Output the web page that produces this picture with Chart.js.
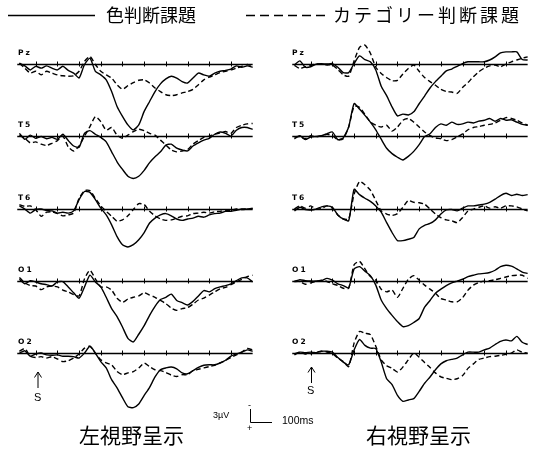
<!DOCTYPE html>
<html lang="ja">
<head>
<meta charset="utf-8">
<title>ERP</title>
<script src="https://cdn.jsdelivr.net/npm/chart.js@4/dist/chart.umd.min.js"></script>
<style>
  body { margin: 0; background: #fff; }
  #page { position: relative; width: 533px; height: 449px; overflow: hidden; background: #fff; color: #000; font-family: "Noto Sans CJK JP", sans-serif; }
  #page canvas { position: absolute; }
  #deco { position: absolute; left: 0; top: 0; }
  .t { position: absolute; line-height: 1; white-space: nowrap; }
  .jp { font-family: "Noto Sans CJK JP", sans-serif; }
  .ch { position: absolute; font-family: "DejaVu Sans", sans-serif; font-size: 7.5px; font-weight: bold; letter-spacing: 2px; line-height: 1; }
  .small { font-family: "Liberation Sans", sans-serif; }
</style>
</head>
<body>
<div id="page">
  <svg id="deco" width="533" height="449">
    <line x1="8" y1="15.5" x2="95" y2="15.5" stroke="#000" stroke-width="1.6"/>
    <line x1="246" y1="15.5" x2="330" y2="15.5" stroke="#000" stroke-width="1.6" stroke-dasharray="9 5"/>
    <path d="M38 388 V372 M34.5 377.5 L38 372 L41.5 377.5" fill="none" stroke="#000" stroke-width="1"/>
    <path d="M311.5 383 V367 M308 372.5 L311.5 367 L315 372.5" fill="none" stroke="#000" stroke-width="1"/>
    <path d="M250.5 409 V422.5 H272" fill="none" stroke="#000" stroke-width="1"/>
  </svg>
  <div class="t jp" style="left:106px; top:5px; font-size:18px;">色判断課題</div>
  <div class="t jp" style="left:333px; top:5px; font-size:18px; letter-spacing:3px;">カテゴリー判断課題</div>
  <div class="t jp" style="left:79px; top:424px; font-size:21px;">左視野呈示</div>
  <div class="t jp" style="left:366px; top:424px; font-size:21px;">右視野呈示</div>
  <div class="t small" style="left:34px; top:392px; font-size:11px;">S</div>
  <div class="t small" style="left:307px; top:385px; font-size:11px;">S</div>
  <div class="t small" style="left:213px; top:411px; font-size:9px;">3µV</div>
  <div class="t small" style="left:248px; top:401px; font-size:9px;">-</div>
  <div class="t small" style="left:247px; top:424px; font-size:9px;">+</div>
  <div class="t small" style="left:282px; top:415px; font-size:10.5px;">100ms</div>
</div>
<script>
// time (ms) of every sample, stimulus at 0
const times = [-75,-50,-25,0,25,50,75,100,125,150,175,200,225,250,275,300,325,350,375,400,425,450,475,500,525,550,575,600,625,650,675,700,725,750,775,800,825,850,875,900,925,950,975,1000];
const channels = ['Pz', 'T5', 'T6', 'O1', 'O2'];
const tickTimes = [0,100,200,300,400,500,600,700,800,900];

// left visual field presentation (µV, negative up)
const leftPzColor = [-0.2,0.4,1.3,0.5,0.9,0.4,0.9,1.3,0.5,1.4, 2.0,3.1,0.1,-1.3,1.6,2.4,3.5,6.1,9.4,11.6, 13.5,14.6,13.5,10.5,8.3,6.1,4.4,3.3,2.7,3.1, 3.9,4.2,3.1,2.0,2.4,2.7,2.0,1.6,1.4,1.1, 0.4,0.7,0.4,0.7];
const leftPzCategory = [-0.2,0.9,2.0,1.6,2.4,1.6,2.0,2.4,2.6,2.7, 2.6,1.6,-0.6,-1.7,0.1,1.6,2.4,3.1,4.6,5.6, 4.8,4.1,3.6,3.5,4.2,5.3,6.1,6.8,7.0,6.8, 6.4,6.1,5.6,4.6,3.5,2.9,2.4,1.9,1.6,1.3, 0.9,0.5,0.1,0.4];
const leftT5Color = [-0.6,0.7,-0.2,0.5,0.1,0.6,0.3,0.7,-0.4,1.0, 2.2,2.5,-0.6,-1.2,-0.4,0.3,1.3,3.5,5.7,7.4, 8.9,9.4,8.9,7.6,5.9,4.6,3.5,2.0,1.8,2.7, 3.1,3.3,2.2,1.5,0.9,0.5,-0.4,-0.9,-0.6,0, -1.3,-1.9,-1.9,-1.5];
const leftT5Category = [-0.2,0.5,1.5,1.3,1.8,2.1,1.6,1.0,0,2.4, 3.3,2.2,0,-2.1,-4.3,-3.2,-1.3,-1.9,-0.2,0.5, -0.2,-1.0,-1.5,-1.2,-0.6,-0.2,0.9,2.0,3.1,3.5, 3.3,3.0,1.8,1.0,0.3,0,-0.4,-0.7,-1.0,-0.6, -1.9,-2.4,-2.7,-2.8];
const leftT6Color = [-0.7,0,0.9,0.1,0,0.3,0.4,0.9,0.7,0.9, 0.4,-2.1,-3.9,-3.7,-2.1,-0.2,1.3,3.5,6.1,7.9, 8.4,7.9,6.8,5.2,3.1,2.0,1.3,1.0,1.5,2.2, 2.5,2.2,2.0,1.6,1.8,1.3,1.0,0.9,0.5,0.5, 0.3,0,0,-0.2];
const leftT6Category = [-1.0,-0.6,-0.7,0.1,1.6,0.7,0.6,1.0,1.5,1.3, 0.9,-2.4,-4.1,-4.1,-2.4,-0.7,0.5,1.6,2.7,2.4, 1.5,0.1,-1.2,-1.0,0.5,1.5,2.2,2.5,2.4,2.0, 1.6,1.5,1.0,0.9,0.7,0.9,0.6,0.5,0.3,0.3, 0,0.1,0,-0.1];
const leftO1Color = [-0.4,0.6,-0.1,0.2,0.6,0.8,1.1,0.2,0.1,1.3, 2.6,3.8,1.3,-1.3,0.2,1.3,3.6,6.1,7.9,10.2, 12.7,13.5,11.8,9.9,7.6,5.6,4.1,3.6,2.9,4.3, 4.8,5.3,4.5,3.3,2.1,2.4,1.7,1.3,1.0,0.6, -0.1,-0.7,-0.7,0.2];
const leftO1Category = [-0.8,0.4,1.0,1.1,1.9,1.3,1.1,1.3,2.0,2.4, 3.0,3.3,-0.5,-2.4,-0.5,1.3,1.3,2.0,3.8,4.7, 4.0,3.6,3.3,2.6,3.1,3.6,4.3,5.0,6.0,6.5, 6.1,5.9,5.1,4.2,3.8,3.1,2.4,1.7,1.4,0.8, 0.2,-0.4,-1.0,-1.3];
const leftO2Color = [0,-0.5,0.7,0.2,0,0.4,0.5,0.4,0.7,0.7, 0.8,1.1,0,-1.5,0,1.9,3.3,5.9,7.7,9.9, 11.9,12.1,11.3,9.4,7.6,5.3,3.7,3.3,3.1,3.5, 4.4,4.6,3.9,3.2,2.7,2.6,2.6,2.2,1.6,0.7, 0.2,-0.2,-0.7,-0.4];
const leftO2Category = [-0.4,-1.0,0.7,1.0,0.8,1.1,0.8,1.3,1.9,1.7, 1.1,0.2,-1.1,-1.5,0,1.5,2.2,2.6,4.1,4.8, 4.4,4.1,3.3,2.2,3.0,3.7,3.9,4.3,4.9,5.2, 4.8,4.8,3.9,3.6,3.3,3.0,2.7,2.2,1.6,1.0, 0.4,-0.2,-1.0,-0.7];

// right visual field presentation
const rightPzColor = [0.2,-0.7,0.7,0.6,0,-0.1,0,-0.1,0.7,1.9, 1.9,-0.1,-1.8,-1.0,-0.5,1.3,4.9,7.0,9.5,11.5, 11.1,11.3,10.6,8.8,7.1,5.3,3.9,2.7,1.5,1.1, 0.5,-0.1,-0.5,-0.5,-0.5,-0.5,-0.9,-1.6,-2.5,-2.7, -2.7,-2.7,-1.0,-0.9];
const rightPzCategory = [0.3,1.0,0.6,0.3,0,0,0.2,0.2,1.2,2.4, 2.7,-0.7,-3.7,-4.2,-2.4,0.7,2.1,3.0,3.7,3.6, 2.2,1.0,0.2,1.6,3.0,3.9,4.7,5.6,6.1,6.2, 6.5,5.2,4.1,2.8,1.7,0.9,0.4,0.2,0.6,0, -0.5,-0.9,-1.3,-1.6];
const rightT5Color = [0.6,-0.1,0.8,0.2,0.1,-0.1,-0.5,-0.9,0.8,0.4, -2.0,-7.2,-6.0,-4.6,-3.1,-1.4,0.7,2.7,3.9,4.7, 5.3,4.5,3.4,1.9,0.1,-0.5,-1.9,-2.7,-2.4,-3.1, -2.6,-2.7,-3.1,-2.9,-3.3,-3.5,-3.9,-3.3,-3.9,-3.5, -3.6,-3.1,-2.6,-2.4];
const rightT5Category = [0.2,0.1,0.6,-0.1,0.2,-0.1,-0.4,-0.1,0.8,0.6, -2.0,-6.6,-6.4,-4.8,-3.1,-2.4,-2.0,-2.4,-1.1,-2.0, -3.5,-3.9,-3.1,-2.0,-0.9,-0.1,0.4,0.6,1.0,0.8, 0.2,-0.5,-1.4,-1.9,-2.1,-2.4,-2.6,-2.9,-3.5,-4.1, -3.9,-3.5,-2.9,-2.4];
const rightT6Color = [0.4,-0.4,0.1,0.2,0,-0.5,-0.7,-0.4,1.3,2.2, 2.6,-4.4,-3.2,-2.4,-1.7,-0.7,0.7,3.0,5.2,7.0, 7.0,6.7,6.3,4.4,3.6,3.2,2.4,1.1,0.2,0.1, 0.4,-0.2,-0.7,-0.7,-0.9,-1.1,-1.5,-2.2,-3.0,-3.5, -3.0,-3.3,-3.0,-3.2];
const rightT6Category = [0,-0.7,-0.2,-0.7,0,-0.1,-0.7,-0.2,1.3,2.2, 2.2,-3.3,-6.1,-5.4,-4.2,-1.9,0.4,1.1,1.4,1.0, -0.4,-1.9,-1.5,-1.4,-1.1,0,1.1,1.9,2.4,2.6, 3.0,1.9,0.4,0,-0.4,-0.7,-0.2,-0.5,-0.2,-0.7, -0.7,-0.5,0,0.4];
const rightO1Color = [0.1,-0.3,-0.1,0,0,-0.1,-0.6,-0.2,0.6,1.0, 1.5,-2.7,-3.2,-2.2,-1.2,0.9,4.2,6.1,7.6,9.0, 10.1,9.9,9.2,8.3,5.8,4.3,2.7,1.8,1.0,0.4, 0,-0.4,-1.0,-1.3,-1.6,-1.7,-1.9,-2.4,-3.2,-3.5, -3.3,-2.7,-2.0,-1.7];
const rightO1Category = [0.1,0.1,0.7,0.4,0.1,-0.2,0.1,0.6,1.0,1.6, 1.6,-3.6,-4.4,-2.7,-1.0,-0.2,1.8,2.4,2.0,3.6, 1.6,-0.4,-1.2,-0.2,0.9,1.8,2.7,3.9,4.2,4.6, 4.6,3.7,2.0,0.9,0.3,0,-0.1,-0.3,-0.6,-0.9, -1.2,-1.3,-1.3,-0.6];
const rightO2Color = [0.4,-0.2,-0.1,-0.2,-0.1,-0.4,-0.4,-0.2,1.0,2.0, 2.6,-0.7,-3.0,-1.7,-1.1,-1.0,2.0,5.7,7.0,9.4, 10.7,10.4,10.1,8.5,6.7,5.3,3.7,2.4,1.7,1.4, 1.1,0.4,-0.2,-0.2,-0.2,-0.7,-1.1,-1.9,-2.6,-2.9, -2.7,-3.7,-2.4,-1.9];
const rightO2Category = [0.2,-0.2,0.2,0.1,-0.2,-0.4,-0.2,0.1,1.1,1.9, 3.0,-2.2,-4.8,-4.4,-4.1,-1.5,1.5,2.8,3.4,4.2, 3.1,1.5,0,0.9,2.1,3.2,4.4,5.3,5.6,5.9, 5.7,5.0,3.4,2.4,1.4,1.1,0.8,0.7,0.5,0.3, 0,-0.7,-0.2,0];

const leftColor = [leftPzColor, leftT5Color, leftT6Color, leftO1Color, leftO2Color];
const leftCategory = [leftPzCategory, leftT5Category, leftT6Category, leftO1Category, leftO2Category];
const rightColor = [rightPzColor, rightT5Color, rightT6Color, rightO1Color, rightO2Color];
const rightCategory = [rightPzCategory, rightT5Category, rightT6Category, rightO1Category, rightO2Category];

// panel geometry
const colLeft = [14, 289];      // canvas left edge per column
const labelLeft = [18, 292];
const baselines = [64, 136, 209, 281, 353];
const panelW = 243, panelH = 110;
const xMin = -100, xMax = 1020;  // 0.217 px per ms
const yMin = -8, yMax = 16.4;    // 4.5 px per µV, negative up

// zero line with 100 ms tick marks
const baselinePlugin = {
  id: 'baseline',
  beforeDatasetsDraw(chart) {
    const {ctx, scales: {x, y}} = chart;
    const y0 = Math.round(y.getPixelForValue(0)) + 0.5;
    ctx.save();
    ctx.strokeStyle = '#000';
    ctx.lineWidth = 1.5;
    ctx.beginPath();
    ctx.moveTo(x.getPixelForValue(-85), y0);
    ctx.lineTo(x.getPixelForValue(1000), y0);
    ctx.stroke();
    ctx.lineWidth = 1;
    tickTimes.forEach(t => {
      const px = Math.round(x.getPixelForValue(t)) + 0.5;
      ctx.beginPath();
      ctx.moveTo(px, y0 - 3);
      ctx.lineTo(px, y0 + 2);
      ctx.stroke();
    });
    ctx.restore();
  }
};

const page = document.getElementById('page');

function makePanel(col, row, color, category) {
  const canvas = document.createElement('canvas');
  canvas.width = panelW;
  canvas.height = panelH;
  canvas.style.left = colLeft[col] + 'px';
  canvas.style.top = (baselines[row] - 36) + 'px';
  page.insertBefore(canvas, page.firstChild);

  const lbl = document.createElement('div');
  lbl.className = 'ch';
  lbl.textContent = channels[row];
  lbl.style.left = labelLeft[col] + 'px';
  lbl.style.top = (baselines[row] - 15) + 'px';
  page.appendChild(lbl);

  new Chart(canvas, {
    type: 'line',
    data: {
      datasets: [
        {
          label: '色判断課題',
          data: times.map((t, i) => ({x: t, y: color[i]})),
          borderColor: '#000',
          borderWidth: 1.4,
          pointRadius: 0,
          tension: 0.2
        },
        {
          label: 'カテゴリー判断課題',
          data: times.map((t, i) => ({x: t, y: category[i]})),
          borderColor: '#000',
          borderWidth: 1.4,
          borderDash: [5, 3],
          pointRadius: 0,
          tension: 0.2
        }
      ]
    },
    options: {
      responsive: false,
      animation: false,
      events: [],
      layout: {padding: 0},
      plugins: {legend: {display: false}, tooltip: {enabled: false}},
      scales: {
        x: {type: 'linear', min: xMin, max: xMax, display: false},
        y: {type: 'linear', min: yMin, max: yMax, reverse: true, display: false}
      }
    },
    plugins: [baselinePlugin]
  });
}

for (let r = 0; r < channels.length; r++) {
  makePanel(0, r, leftColor[r], leftCategory[r]);
  makePanel(1, r, rightColor[r], rightCategory[r]);
}
</script>
</body>
</html>
